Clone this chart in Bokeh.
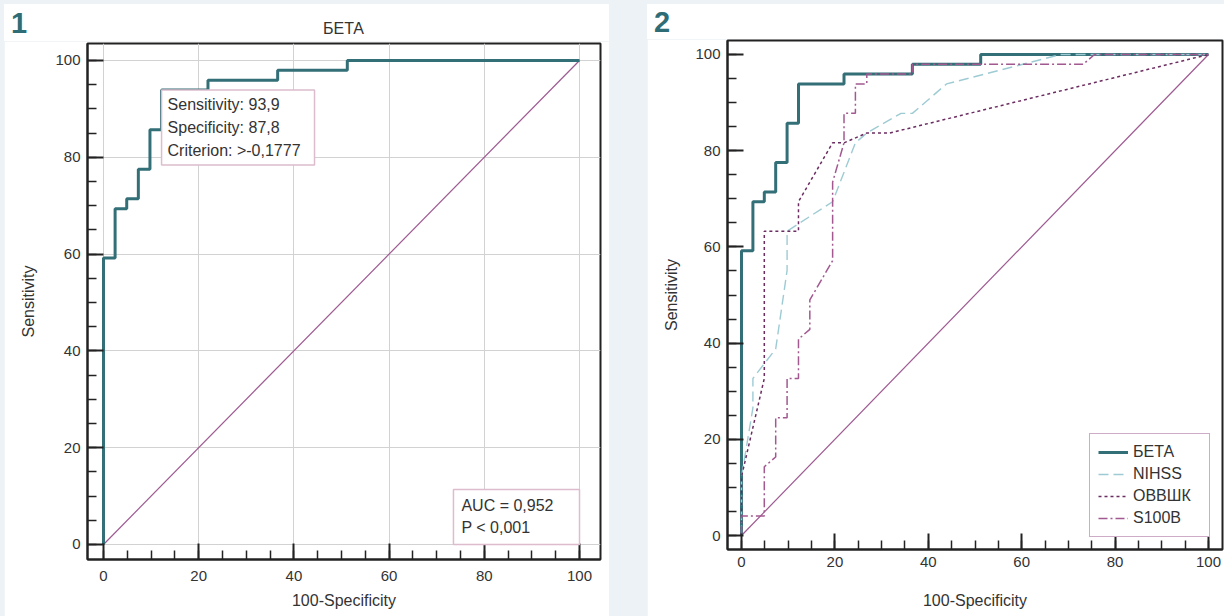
from bokeh.plotting import figure
from bokeh.models import Range1d, Label, SingleIntervalTicker, Spacer, Div
from bokeh.layouts import row, column
from bokeh.embed import file_html
from bokeh.resources import INLINE

# ---------------- data ----------------
beta_x = [0, 0, 2.44, 2.44, 4.88, 4.88, 7.32, 7.32, 9.76, 9.76, 12.2, 12.2, 21.95, 21.95, 36.59, 36.59, 51.22, 51.22, 100]
beta_y = [0, 59.18, 59.18, 69.39, 69.39, 71.43, 71.43, 77.55, 77.55, 85.71, 85.71, 93.88, 93.88, 95.92, 95.92, 97.96, 97.96, 100, 100]

nihss_x = [0, 0, 2.44, 2.44, 7.32, 9.76, 9.76, 19.51, 24.39, 26.83, 34.15, 36.59, 43.9, 68.29, 100]
nihss_y = [0, 12.24, 26.53, 32.65, 38.78, 55.1, 63.27, 69.39, 81.63, 83.67, 87.76, 87.76, 93.88, 100, 100]

ovv_x = [0, 0, 4.88, 4.88, 12.2, 12.2, 19.51, 21.95, 26.83, 31.71, 100]
ovv_y = [0, 12.24, 32.65, 63.27, 63.27, 69.39, 81.63, 81.63, 83.67, 83.67, 100]

s100_x = [0, 0, 4.88, 4.88, 7.32, 7.32, 9.76, 9.76, 12.2, 12.2, 14.63, 14.63, 19.51, 19.51, 21.95, 21.95,
          24.39, 24.39, 26.83, 26.83, 36.59, 36.59, 73.17, 75.61, 100]
s100_y = [0, 4.08, 4.08, 14.29, 16.33, 24.49, 24.49, 32.65, 32.65, 40.82, 42.86, 48.98, 57.14, 73.47, 81.63, 87.76,
          87.76, 93.88, 93.88, 95.92, 95.92, 97.96, 97.96, 100, 100]

diag_x = [0, 100]
diag_y = [0, 100]

series_names = ["БЕТА", "NIHSS", "ОВВШК", "S100B"]
panel_tags = ["1", "2"]
crit_sens, crit_spec, crit_value = "93,9", "87,8", ">-0,1777"
auc_text, p_text = "AUC = 0,952", "P < 0,001"

# ---------------- styles ----------------
FONT = "Liberation Sans"
TEAL = "#2f6d76"
C_BETA = "#336f77"
C_NIHSS = "#9ecbd3"
C_OVV = "#6b2c61"
C_S100 = "#a25990"
C_DIAG = "#9e5a91"
TXT = "#333333"
BG = "#edf2f6"


def style_axes(p):
    for ax in (p.xaxis[0], p.yaxis[0]):
        ax.ticker = SingleIntervalTicker(interval=20, num_minor_ticks=4)
        ax.axis_line_width = 2
        ax.axis_line_color = "#222222"
        ax.major_tick_in = 16
        ax.major_tick_out = 0
        ax.major_tick_line_width = 2
        ax.major_tick_line_color = "#222222"
        ax.minor_tick_in = 9
        ax.minor_tick_out = 0
        ax.minor_tick_line_width = 1.5
        ax.minor_tick_line_color = "#222222"
        ax.major_label_text_font = FONT
        ax.major_label_text_font_size = "15px"
        ax.major_label_text_color = TXT
        ax.axis_label_text_font = FONT
        ax.axis_label_text_font_size = "16px"
        ax.axis_label_text_font_style = "normal"
        ax.axis_label_text_color = TXT
    p.outline_line_color = "#222222"
    p.outline_line_width = 2
    p.border_fill_color = "white"
    p.background_fill_color = "white"


def header(width, height, tag, tag_top, title=None, title_center=0):
    tag_html = (f'<div style="position:absolute;left:7px;top:{tag_top}px;font-family:\'{FONT}\';'
                f'font-size:29px;line-height:33px;font-weight:bold;color:{TEAL};">{tag}</div>')
    title_html = ""
    if title:
        title_html = (f'<div style="position:absolute;left:{title_center - 100}px;width:200px;top:15px;'
                      f'text-align:center;font-family:\'{FONT}\';font-size:16px;line-height:19px;'
                      f'color:{TXT};">{title}</div>')
    html = (f'<div style="position:relative;width:{width}px;height:{height}px;background:white;'
            f'margin:0;padding:0;">{tag_html}{title_html}</div>')
    return Div(text=html, width=width, height=height, margin=0,
               styles={"background-color": "white", "margin": "0", "padding": "0"})


# ---------------- panel 1 ----------------
h1 = header(605, 37, panel_tags[0], 2.5, series_names[0], 339.5)

p1 = figure(width=605, height=575, output_backend="svg", toolbar_location=None, title=None,
            x_range=Range1d(-3.36, 104.41), y_range=Range1d(-3.10, 103.51),
            min_border_left=83, min_border_right=9, min_border_top=2, min_border_bottom=57,
            x_axis_label="100-Specificity", y_axis_label="Sensitivity")
style_axes(p1)
p1.xaxis.major_label_standoff = 11
p1.xaxis.axis_label_standoff = 8
p1.yaxis.major_label_standoff = 7
p1.yaxis.axis_label_standoff = 15
p1.grid.grid_line_color = "#d2d2d2"
p1.grid.grid_line_width = 1

p1.line(diag_x, diag_y, line_color=C_DIAG, line_width=1.2)
p1.line(beta_x, beta_y, line_color=C_BETA, line_width=3)

p1.add_layout(Label(x=12.2, y=93.88, anchor="top_left",
                    text=f"Sensitivity: {crit_sens}\nSpecificity: {crit_spec}\nCriterion: {crit_value}",
                    text_font=FONT, text_font_size="16px", text_color=TXT, text_line_height=1.35,
                    padding={"left": 6, "right": 14, "top": 6, "bottom": 6},
                    border_line_color="#dcbccd", border_line_width=1.5,
                    background_fill_color="white"))
p1.add_layout(Label(x=100, y=0, anchor="bottom_right",
                    text=f"{auc_text}\n{p_text}",
                    text_font=FONT, text_font_size="16px", text_color=TXT, text_line_height=1.3,
                    padding={"left": 8, "right": 26, "top": 8, "bottom": 8},
                    border_line_color="#dcbccd", border_line_width=1.5,
                    background_fill_color="white"))

# ---------------- panel 2 ----------------
h2 = header(577, 35, panel_tags[1], 1.5)

p2 = figure(width=577, height=577, output_backend="svg", toolbar_location=None, title=None,
            x_range=Range1d(-3.0, 103.0), y_range=Range1d(-2.91, 102.91),
            min_border_left=80, min_border_right=2, min_border_top=1, min_border_bottom=67,
            x_axis_label="100-Specificity", y_axis_label="Sensitivity")
style_axes(p2)
p2.grid.visible = False
p2.xaxis.major_label_standoff = 7
p2.xaxis.axis_label_standoff = 22
p2.yaxis.major_label_standoff = 7
p2.yaxis.axis_label_standoff = 12

p2.line(diag_x, diag_y, line_color=C_DIAG, line_width=1.2)
p2.line(beta_x, beta_y, line_color=C_BETA, line_width=3, legend_label=series_names[0])
p2.line(nihss_x, nihss_y, line_color=C_NIHSS, line_width=1.4, line_dash="10 5", legend_label=series_names[1])
p2.line(ovv_x, ovv_y, line_color=C_OVV, line_width=1.5, line_dash="3 3", legend_label=series_names[2])
p2.line(s100_x, s100_y, line_color=C_S100, line_width=1.5, line_dash="9 3 2 3", legend_label=series_names[3])

lg = p2.legend[0]
lg.location = "bottom_right"
lg.margin = 12
lg.padding = 8
lg.spacing = 2
lg.glyph_width = 30
lg.glyph_height = 20
lg.label_height = 20
lg.label_width = 68
lg.label_standoff = 5
lg.label_text_font = FONT
lg.label_text_font_size = "16px"
lg.label_text_color = TXT
lg.border_line_color = "#9e5a91"
lg.border_line_width = 1.5
lg.background_fill_color = "white"
lg.background_fill_alpha = 1

# ---------------- page ----------------
layout = column(
    Spacer(width=1224, height=4, styles={"background-color": BG}),
    row(
        Spacer(width=4, height=612, styles={"background-color": BG}),
        column(h1, p1),
        Spacer(width=38, height=612, styles={"background-color": BG}),
        column(h2, p2),
        styles={"background-color": BG},
    ),
    styles={"background-color": BG},
)

open("out.html", "w").write(file_html(layout, INLINE))
